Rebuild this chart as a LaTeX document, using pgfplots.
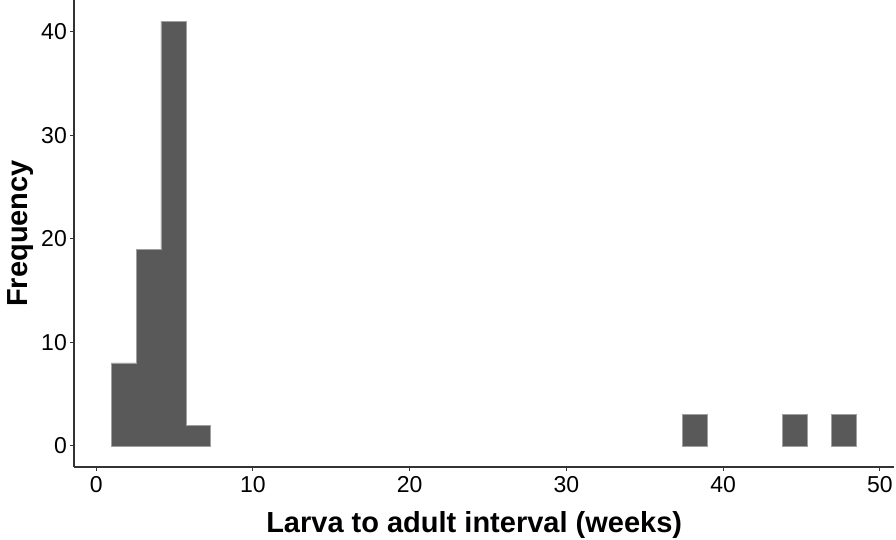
\documentclass[border=0pt]{standalone}
\usepackage{fontspec}
\setmainfont{Liberation Sans}
\usepackage{pgfplots}
\pgfplotsset{compat=1.18}

\definecolor{barfill}{HTML}{595959}
\definecolor{barline}{HTML}{A0A0A0}
\definecolor{axisgray}{HTML}{333333}

\begin{document}
\begin{tikzpicture}
\path[use as bounding box] (0,0) rectangle (896pt,540pt);
\begin{axis}[
    at={(74pt,73pt)}, anchor=south west,
    scale only axis,
    width=820pt, height=467pt,
    xmin=-1.42, xmax=50.9,
    ymin=-2.05, ymax=43.05,
    axis x line=bottom, axis y line=left,
    axis line style={-, axisgray, line width=1.1pt},
    tick style={axisgray, line width=1pt},
    tick align=outside,
    major tick length=4pt,
    xtick={0,10,20,30,40,50},
    ytick={0,10,20,30,40},
    /pgf/number format/assume math mode=true,
    tick label style={font=\fontsize{23}{27}\selectfont, text=black},
    xticklabel style={inner sep=0pt, yshift=-5pt},
    yticklabel style={inner sep=0pt, xshift=-3pt},
    xlabel={Larva to adult interval (weeks)},
    ylabel={Frequency},
    label style={font=\fontsize{29}{34}\selectfont\bfseries},
    xlabel style={at={(axis description cs:0.488,-0.1413)}, anchor=base},
    ylabel style={at={(axis description cs:-0.0561,0.5)}, anchor=base},
    clip=false,
    hist/.style={fill=barfill, draw=barline, line width=0.5pt, mark=none},
]
% bin width about 1.585 weeks, counts; outlines only round each run of bars
\addplot[hist] coordinates {
    (0.960,0) (0.960,8) (2.545,8) (2.545,19) (4.130,19) (4.130,41)
    (5.715,41) (5.715,2) (7.300,2) (7.300,0)
} \closedcycle;
\addplot[hist] coordinates {(37.415,0) (37.415,3) (39.000,3) (39.000,0)} \closedcycle;
\addplot[hist] coordinates {(43.755,0) (43.755,3) (45.340,3) (45.340,0)} \closedcycle;
\addplot[hist] coordinates {(46.925,0) (46.925,3) (48.510,3) (48.510,0)} \closedcycle;
\end{axis}
\end{tikzpicture}
\end{document}
